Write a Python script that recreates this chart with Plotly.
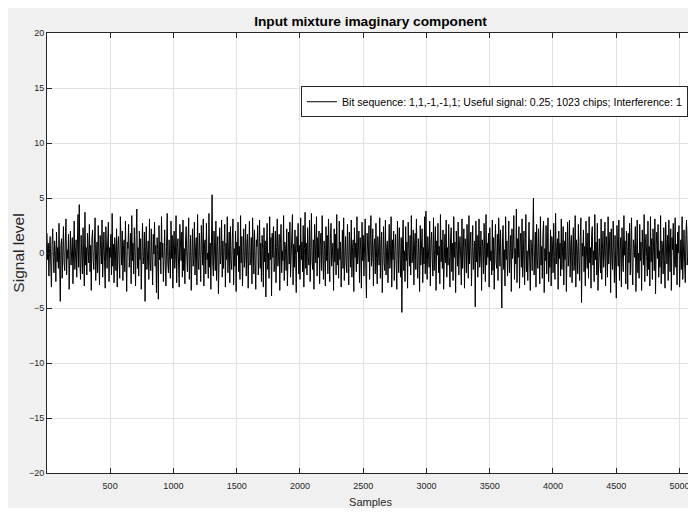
import plotly.graph_objects as go

# ---- data (one value every 5 samples) ----
sample_step = 5
signal_level = [
    1.8, -0.6, 0.9, -2.1, 0.4, 1.5, -1.2, -3.1, 0.7, 2.2, -0.3, -1.8, 1.1, 0.2, -2.6, 1.9, -0.8, 0.5, -1.4, 2.7,
    -1.0, -4.4, 0.6, 1.3, -2.3, 0.1, 2.4, -0.9, -1.6, 1.0, 3.1, -2.0, 0.3, -0.5, 1.7, -3.3, 0.8, 2.0, -1.1, -0.2,
    1.4, -2.8, 0.6, 2.9, -1.5, -0.4, 1.2, -2.2, 0.9, 3.5, -1.3, 4.4, -0.7, -2.4, 1.6, 0.2, -1.9, 2.3, -0.1, -3.0,
    3.7, -1.1, 0.5, -2.0, 1.8, 0.0, -0.9, 2.6, -1.7, 0.7, -3.4, 1.3, 2.1, -0.6, -1.5, 0.9, 3.2, -2.5, 0.4, 1.0,
    -1.8, 2.5, -0.3, -2.9, 1.6, 0.6, -1.0, 3.0, -2.2, 0.2, 1.9, -0.8, -3.2, 2.4, 0.1, -1.4, 1.1, 2.8, -2.6, 0.5,
    -0.4, 1.7, -2.0, 3.6, -1.2, 0.8, -2.7, 1.4, 0.3, -1.6, 2.2, -3.1, 0.6, 1.5, -0.9, -2.3, 3.3, 0.0, -1.1, 2.0,
    -2.5, 0.7, 1.2, -1.7, 2.9, -0.5, -3.5, 1.0, 0.4, 2.6, -1.3, -0.2, 1.8, -2.8, 3.4, -0.7, 0.9, -1.9, 2.3, 0.1,
    -3.0, 1.6, 4.0, -1.4, 0.5, -2.1, 2.0, -0.6, 1.3, -3.3, 0.8, 2.7, -1.0, -0.3, 1.9, -4.4, 0.6, 2.4, -1.5, 0.2,
    1.1, -2.4, 3.1, -0.8, -1.6, 2.2, 0.4, -2.9, 1.7, -0.1, 2.8, -1.2, 0.7, -3.6, 1.4, 0.3, -4.2, 2.5, -0.6, 1.0,
    -1.9, 3.3, -0.4, 0.9, -2.6, 1.5, 2.1, -1.1, -3.0, 0.6, 3.6, -0.9, -1.8, 1.2, 0.0, -2.3, 2.9, -0.5, 1.6, -3.2,
    0.8, 2.0, -1.4, -0.2, 3.4, -2.7, 0.5, 1.3, -1.0, -3.1, 2.6, 0.2, -0.7, 1.9, -2.2, 3.0, -1.6, 0.4, -2.8, 1.1,
    2.4, -0.3, -1.7, 0.9, 3.2, -2.4, 0.1, 1.6, -3.4, 0.7, 2.2, -1.2, -0.5, 2.8, -2.0, 0.6, 1.4, -2.9, 3.5, -0.8,
    -1.5, 1.8, 0.3, -2.6, 2.5, -0.4, -1.1, 3.1, -3.0, 0.8, 1.2, -1.9, 2.7, -0.6, 0.0, -2.3, 3.6, -1.3, 0.9, -3.3,
    1.7, 5.3, -0.9, -2.1, 2.0, 0.4, -1.6, 2.9, -2.5, 0.6, 1.5, -3.7, 0.2, 2.3, -1.0, -0.3, 3.0, -2.2, 1.1, -1.4,
    0.5, 2.6, -3.1, 0.9, -0.6, 3.3, -1.8, 0.0, 1.9, -2.7, 2.4, -0.8, -1.5, 1.3, 3.1, -2.9, 0.4, -1.2, 2.0, -3.5,
    1.0, -0.2, 2.8, -1.7, 0.6, -2.4, 3.4, -0.9, 1.5, -3.0, 0.3, 2.2, -1.3, -0.4, 2.6, -2.1, 0.8, 1.7, -3.2, 0.1,
    2.9, -1.1, -0.5, 1.4, -2.8, 3.2, 0.2, -1.9, 2.1, -0.7, -3.3, 1.2, 0.6, 2.5, -2.0, -0.1, 3.0, -1.4, 0.9, -2.6,
    1.6, 0.3, -3.1, 2.3, -0.8, 1.1, -4.0, 0.7, 2.7, -1.5, 0.0, -2.3, 3.3, -0.6, 1.4, -3.9, 1.8, -0.4, 2.4, -1.7,
    -0.9, 2.0, -2.7, 0.5, 3.1, -1.2, -0.3, 1.7, -3.4, 0.9, 2.6, -1.8, 0.2, -0.7, 3.4, -2.5, 1.0, 0.4, -1.6, 2.2,
    -3.0, 0.6, 1.9, -1.0, 2.8, -2.2, -0.5, 1.3, 3.5, -2.9, 0.8, -1.3, 2.1, -0.2, -3.6, 1.5, 0.1, 2.7, -1.9, 0.7,
    -2.4, 3.2, -0.6, 1.0, -1.7, 2.5, -3.1, 0.4, 3.7, -1.4, 0.9, -2.0, 2.3, -0.3, -1.1, 3.0, -2.6, 0.5, 3.6, -0.8,
    -1.5, 1.2, -3.3, 2.6, 0.2, -0.9, 3.3, -2.1, 1.4, -0.4, 2.0, -2.8, 0.7, 1.8, -1.6, 3.4, -0.2, -2.4, 1.1, 0.3,
    -3.0, 2.4, -0.7, 1.6, -1.9, 3.1, 0.0, -2.6, 1.3, 2.7, -1.2, -0.5, 0.9, -3.4, 2.2, -0.8, 1.7, -2.0, 3.5, -1.1,
    0.4, -2.3, 2.9, -0.6, 1.0, -3.1, 0.6, 2.1, -1.4, 3.2, -2.5, 0.2, 1.5, -0.9, -1.8, 2.6, -0.3, -2.9, 1.9, 0.8,
    -1.3, 3.0, -2.2, 0.5, 1.2, -3.5, 2.3, -0.4, 0.9, -1.7, 3.3, -1.0, -0.1, 2.0, -2.7, 1.4, 0.3, -3.2, 2.8, -0.7,
    1.6, -2.1, 0.6, 3.1, -1.5, -4.1, 1.8, 0.2, -0.8, 2.5, -2.4, 1.0, 3.4, -1.2, -0.3, 2.2, -3.0, 0.7, 1.3, -1.9,
    2.7, -0.5, -2.8, 1.5, 0.4, -1.1, 3.2, -2.3, 0.8, 1.9, -3.6, 0.1, 2.4, -0.9, -1.6, 3.0, -2.0, 0.5, 1.1, -2.7,
    0.9, 2.6, -1.4, -0.2, 3.3, -3.1, 1.2, -0.6, 2.0, -2.5, 0.3, 1.7, -1.0, -3.3, 2.9, 0.6, -1.8, 2.3, -0.4, -2.2,
    1.4, -5.4, 0.8, 3.0, -1.6, 0.2, -2.6, 2.4, -0.7, 1.0, -3.2, 2.8, 0.4, -1.2, 1.6, -2.0, 3.4, -0.9, -0.3, 2.1,
    -2.9, 0.7, 1.8, -1.5, 3.1, -0.4, -2.3, 1.3, 0.0, -3.5, 2.5, -1.1, 0.9, 2.2, -2.7, 0.5, -1.0, 3.3, -1.9, 3.8,
    -0.6, -2.4, 1.5, 0.3, -1.3, 2.9, -3.0, 0.8, 1.9, -0.5, -2.1, 3.2, -1.6, 0.4, 2.4, -3.4, 1.1, -0.2, 2.7, -1.8,
    0.6, -2.8, 3.5, -0.8, 1.2, -1.4, 2.1, -3.3, 0.2, 1.7, -0.9, 3.0, -2.2, 0.5, -1.1, 2.6, -0.3, -3.1, 1.4, 2.3,
    -1.7, 0.9, -2.5, 3.3, -0.4, 1.0, -3.6, 2.0, 0.3, -1.2, 2.8, -2.0, 0.7, 1.5, -0.6, -2.9, 3.1, -1.4, 0.1, 2.2,
    -3.2, 1.3, 0.5, -1.8, 2.6, -0.7, -2.3, 3.4, -1.0, 0.8, 1.9, -3.0, 0.0, 2.5, -1.5, -0.2, 1.1, -4.9, 2.9, -0.8,
    1.6, -2.2, 0.4, 3.1, -1.3, -0.5, 2.0, -3.4, 1.2, 0.6, -1.9, 2.7, -0.1, -2.6, 3.5, -1.1, 0.9, -0.4, 1.8, -3.1,
    2.3, -0.7, 0.2, -2.0, 3.0, -1.6, 1.4, -3.3, 0.7, 2.6, -0.9, -1.4, 1.7, -2.5, 3.2, 0.1, -1.2, 2.1, -2.8, -5.0,
    1.0, 2.5, -1.5, 0.3, -3.0, 3.3, -0.6, 1.1, -2.1, 0.8, 2.9, -1.8, -0.3, 1.6, -3.5, 2.2, -0.5, 0.6, 3.4, -2.4,
    0.4, -1.0, 4.0, -2.7, 1.3, -0.4, 2.4, -3.2, 0.9, 1.8, -1.3, 3.1, -2.2, -0.1, 2.0, -2.9, 0.7, 3.5, -1.7, 0.2,
    -2.5, 1.5, 2.8, -0.8, -3.4, 1.2, 0.5, -1.6, 3.0, 5.0, -2.0, 0.3, 1.9, -3.1, 2.6, -0.6, -1.4, 2.2, 0.0, -2.8,
    3.3, -1.1, 0.6, -2.3, 1.7, 2.9, -3.6, 0.4, -0.7, 2.5, -1.9, 1.0, 3.2, -2.6, 0.1, -1.3, 2.1, -3.0, 1.5, 0.8,
    -1.8, 2.7, -0.3, -2.4, 3.6, -1.0, 0.7, 1.3, -3.3, 2.0, -0.5, 0.9, -2.1, 3.1, -1.5, 0.2, 2.4, -2.9, 1.1, -0.6,
    1.9, -3.5, 0.5, 2.8, -1.2, -0.2, 3.0, -2.2, 0.8, 1.6, -2.7, 0.3, 2.3, -1.6, -0.8, 3.4, -3.1, 1.2, 0.4, -1.9,
    2.6, -0.7, -2.5, 1.4, 3.2, -4.5, 0.9, -0.3, 2.1, -1.7, 0.6, -3.0, 2.9, 0.0, -1.4, 1.8, -2.3, 3.3, -0.9, 0.5,
    -3.2, 1.7, 2.4, -1.1, 0.2, -2.6, 3.5, -0.6, 1.0, -2.0, 2.7, -3.4, 0.7, 1.3, -0.4, -1.8, 3.1, -2.4, 0.3, 2.0,
    -1.3, -0.1, 2.8, -3.0, 1.5, 0.6, -2.2, 3.3, -1.0, 0.4, 1.9, -3.6, 2.2, -0.5, -1.5, 2.9, 0.1, -2.7, 1.6, -0.8,
    -4.1, 2.5, 0.8, -1.2, 3.0, -2.5, 0.2, 1.4, -3.1, 2.3, -0.6, -1.7, 3.4, -0.2, 1.1, -2.8, 2.0, 0.5, -3.3, 1.8,
    -0.9, 2.7, -2.0, 0.3, 3.2, -1.4, -2.9, 1.2, 0.7, -0.4, 2.4, -3.5, 1.5, 3.0, -1.8, 0.0, -2.3, 2.6, -0.7, 1.0,
    -3.4, 2.1, 0.4, -1.1, 3.5, -2.6, 0.9, 1.7, -0.3, -2.1, 2.9, -1.5, 0.6, -3.0, 3.3, -0.8, 1.3, -2.4, 2.2, 0.1,
    -1.6, 3.1, -3.7, 0.7, 1.9, -0.5, 2.6, -2.2, 0.2, -1.3, 3.4, -2.8, 1.1, 0.5, -1.9, 2.3, -0.6, -3.2, 2.8, 0.9,
    -1.0, 1.6, -2.5, 3.0, -0.2, -1.7, 2.2, -3.4, 1.4, 0.3, 2.7, -2.0, -0.7, 3.2, -1.3, 0.8, -2.9, 1.9, 0.0, 2.5,
    -3.1, 0.6, 1.2, -1.5, 3.3, -2.4, 0.4, 2.1, -0.9, -2.7, 1.7, 3.0, -1.1, -0.3, 2.4, -3.5, 1.0, 0.2, -1.8, 2.9,
    3.4, -2.3, 1.1,
]
samples = list(range(1, 1 + sample_step * len(signal_level), sample_step))

x_ticks = [500, 1000, 1500, 2000, 2500, 3000, 3500, 4000, 4500, 5000]
y_ticks = [-20, -15, -10, -5, 0, 5, 10, 15, 20]
x_range = [1, 5115]
y_range = [-20, 20]

title_text = "Input mixture imaginary component"
legend_text = "Bit sequence: 1,1,-1,-1,1; Useful signal: 0.25; 1023 chips; Interference: 1"

FONT = "Liberation Sans, Arial, sans-serif"
AX = "#262626"

fig = go.Figure()
fig.add_trace(go.Scatter(
    x=samples, y=signal_level, mode="lines",
    line=dict(color="black", width=1),
    name=legend_text, showlegend=True,
))

axis_common = dict(
    showline=True, linecolor=AX, linewidth=1, mirror="ticks",
    ticks="inside", ticklen=5, tickcolor=AX, tickwidth=1,
    showgrid=True, gridcolor="#e1e1e1", gridwidth=1,
    zeroline=False, automargin=False,
    tickfont=dict(family=FONT, size=9, color=AX),
)

# The page body adds an 8px offset; the figure is sized so the plot area
# lands where it sits in the reference (the white page edge shows at left/top).
fig.update_layout(
    width=688, height=500,
    margin=dict(l=39, r=2, t=25, b=35),
    paper_bgcolor="#f0f0f0", plot_bgcolor="white",
    title=dict(text="<b>" + title_text + "</b>", x=0.5, xref="paper", xanchor="center",
               y=0.974, yanchor="middle",
               font=dict(family=FONT, size=13.7, color="black")),
    xaxis=dict(range=x_range, tickvals=x_ticks, ticklabelstandoff=4, **axis_common,
               title=dict(text="Samples", font=dict(family=FONT, size=11, color=AX), standoff=12)),
    yaxis=dict(range=y_range, tickvals=y_ticks, **axis_common,
               title=dict(text="Signal level", font=dict(family=FONT, size=15.5, color=AX), standoff=0)),
    legend=dict(x=0.9907, y=0.879, xanchor="right", yanchor="top",
                bgcolor="white", bordercolor=AX, borderwidth=1,
                font=dict(family=FONT, size=10.6, color="black"),
                itemwidth=30, tracegroupgap=0),
    showlegend=True,
)

fig.write_html("out.html")
